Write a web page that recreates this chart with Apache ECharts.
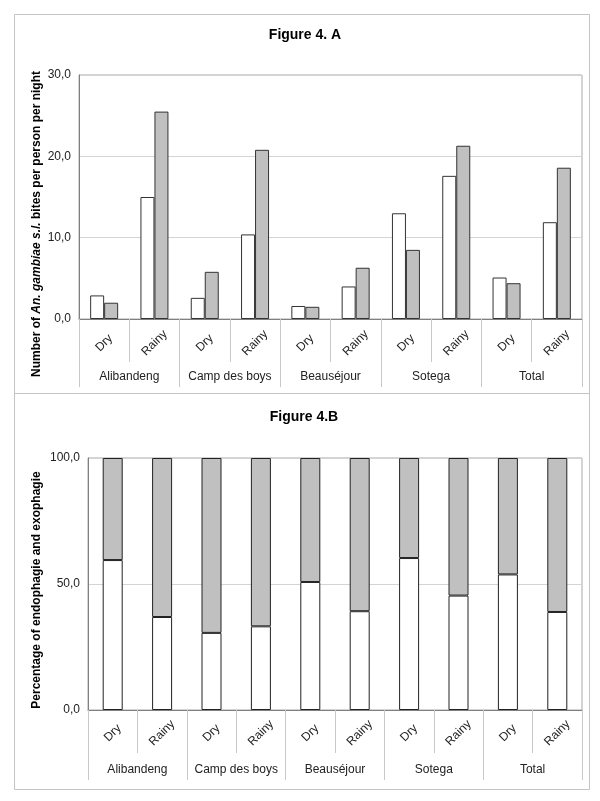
<!DOCTYPE html>
<html>
<head>
<meta charset="utf-8">
<script src="https://cdn.jsdelivr.net/npm/echarts@6/dist/echarts.min.js"></script>
<style>html,body{margin:0;padding:0;background:#fff}#c{width:600px;height:801px}</style>
</head>
<body>
<div id="c"></div>
<script>
// ---- data ----
const seasons = ['Dry','Rainy','Dry','Rainy','Dry','Rainy','Dry','Rainy','Dry','Rainy'];
const sites = ['Alibandeng','Camp des boys','Beauséjour','Sotega','Total'];
// Figure 4.A : bites per person per night
const bitesWhite = [2.9, 15.0, 2.6, 10.4, 1.6, 4.0, 13.0, 17.6, 5.1, 11.9];
const bitesGray  = [2.0, 25.5, 5.8, 20.8, 1.5, 6.3, 8.5, 21.3, 4.4, 18.6];
// Figure 4.B : percentage endophagie / exophagie
const endophagie = [59.5, 36.9, 30.6, 33.2, 50.8, 39.2, 60.3, 45.4, 53.8, 38.9];
const exophagie  = endophagie.map(v => +(100 - v).toFixed(1));
const ticksA = [0, 10, 20, 30];
const ticksB = [0, 50, 100];

const FONT = "'Liberation Sans', Arial, sans-serif";
const fmt = v => v.toFixed(1).replace('.', ',');

const chart = echarts.init(document.getElementById('c'), null, {renderer: 'canvas'});

function subAxis(gi, tickLen, margin) {
  return {
    type: 'category', gridIndex: gi, data: seasons, position: 'bottom',
    axisLine: {show: true, lineStyle: {color: '#808080', width: 1}},
    axisTick: {show: true, length: tickLen, interval: 0, lineStyle: {color: '#c8c8c8'}},
    axisLabel: {interval: 0, rotate: 45, align: 'center', verticalAlign: 'middle', margin: margin,
      fontFamily: FONT, fontSize: 12, color: '#222'},
    splitLine: {show: false}
  };
}
function groupAxis(gi, tickLen, margin) {
  return {
    type: 'category', gridIndex: gi, data: sites, position: 'bottom',
    axisLine: {show: false},
    axisTick: {show: true, length: tickLen, interval: 0, lineStyle: {color: '#c8c8c8'}},
    axisLabel: {interval: 0, verticalAlign: 'middle', margin: margin,
      fontFamily: FONT, fontSize: 12, color: '#222'},
    splitLine: {show: false}
  };
}
function valAxis(gi, max, interval) {
  return {
    type: 'value', gridIndex: gi, min: 0, max: max, interval: interval,
    axisLine: {show: true, lineStyle: {color: '#808080'}},
    axisTick: {show: false},
    axisLabel: {formatter: fmt, fontFamily: FONT, fontSize: 12, color: '#222', margin: 8},
    splitLine: {show: true, lineStyle: {color: '#d4d4d4', width: 1}}
  };
}

const option = {
  animation: false,
  backgroundColor: '#fff',
  grid: [
    {left: 79, right: 18, top: 75, height: 244, show: true, borderColor: '#a8a8a8', borderWidth: 1, containLabel: false, outerBoundsMode: 'none'},
    {left: 88, right: 18, top: 458, height: 252, show: true, borderColor: '#a8a8a8', borderWidth: 1, containLabel: false, outerBoundsMode: 'none'}
  ],
  xAxis: [
    subAxis(0, 43, 24),
    groupAxis(0, 68, 58),
    subAxis(1, 43, 23),
    groupAxis(1, 70, 60)
  ],
  yAxis: [
    valAxis(0, 30, 10),
    valAxis(1, 100, 50)
  ],
  series: [
    {name: 'Indoor', type: 'bar', xAxisIndex: 0, yAxisIndex: 0, data: bitesWhite, barWidth: 14, barGap: '0%',
      itemStyle: {color: '#ffffff', borderColor: '#333', borderWidth: 1}},
    {name: 'Outdoor', type: 'bar', xAxisIndex: 0, yAxisIndex: 0, data: bitesGray, barWidth: 14, barGap: '0%',
      itemStyle: {color: '#c0c0c0', borderColor: '#333', borderWidth: 1}},
    {name: 'Endophagie', type: 'bar', xAxisIndex: 2, yAxisIndex: 1, stack: 'p', data: endophagie, barWidth: 20,
      itemStyle: {color: '#ffffff', borderColor: '#222', borderWidth: 1}},
    {name: 'Exophagie', type: 'bar', xAxisIndex: 2, yAxisIndex: 1, stack: 'p', data: exophagie, barWidth: 20,
      itemStyle: {color: '#c0c0c0', borderColor: '#222', borderWidth: 1}}
  ],
  graphic: [
    {type: 'rect', z: -1, shape: {x: 14.5, y: 14.5, width: 575, height: 379}, style: {fill: 'none', stroke: '#c4c4c4', lineWidth: 1}},
    {type: 'rect', z: -1, shape: {x: 14.5, y: 393.5, width: 575, height: 396}, style: {fill: 'none', stroke: '#c4c4c4', lineWidth: 1}},
    {type: 'text', x: 305, y: 35, style: {text: 'Figure 4. A', font: 'bold 14px ' + FONT, fill: '#000', align: 'center', verticalAlign: 'middle', textAlign: 'center', textVerticalAlign: 'middle'}},
    {type: 'text', x: 304, y: 417, style: {text: 'Figure 4.B', font: 'bold 14px ' + FONT, fill: '#000', align: 'center', verticalAlign: 'middle', textAlign: 'center', textVerticalAlign: 'middle'}},
    {type: 'text', x: 37, y: 224, rotation: Math.PI / 2,
      style: {text: '{b|Number of }{i|An. gambiae s.l.}{b| bites per person per night}',
        rich: {b: {font: 'bold 12px ' + FONT, fill: '#000', fontWeight: 'bold', fontSize: 12, fontFamily: FONT},
               i: {font: 'italic bold 12px ' + FONT, fill: '#000', fontWeight: 'bold', fontStyle: 'italic', fontSize: 12, fontFamily: FONT}},
        font: 'bold 12px ' + FONT, fill: '#000', align: 'center', verticalAlign: 'middle', textAlign: 'center', textVerticalAlign: 'middle'}},
    {type: 'text', x: 37, y: 590, rotation: Math.PI / 2,
      style: {text: 'Percentage of endophagie and exophagie', font: 'bold 12px ' + FONT, fill: '#000', align: 'center', verticalAlign: 'middle', textAlign: 'center', textVerticalAlign: 'middle'}}
  ]
};
chart.setOption(option);
</script>
</body>
</html>
